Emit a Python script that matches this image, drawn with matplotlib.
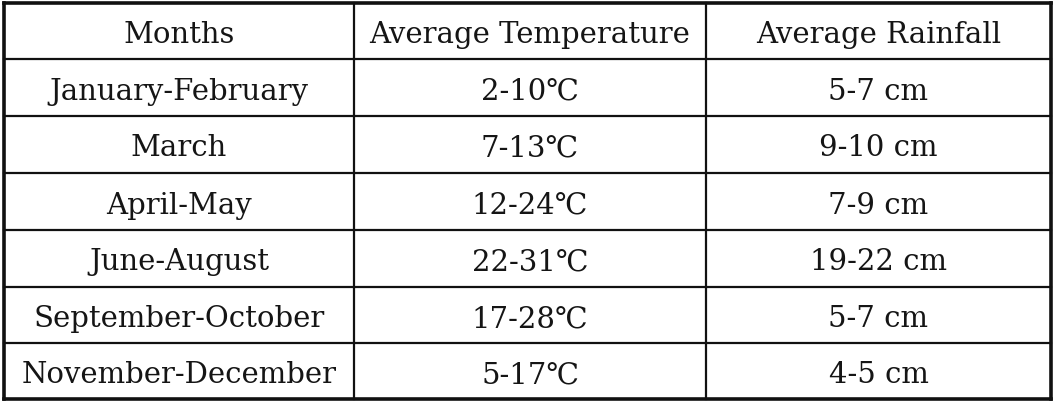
import matplotlib.pyplot as plt

headers = ['Months', 'Average Temperature', 'Average Rainfall']
months = ['January-February', 'March', 'April-May', 'June-August',
          'September-October', 'November-December']
temperature = ['2-10℃', '7-13℃', '12-24℃', '22-31℃', '17-28℃', '5-17℃']
rainfall = ['5-7 cm', '9-10 cm', '7-9 cm', '19-22 cm', '5-7 cm', '4-5 cm']

col_edges = [4, 354, 706, 1051]
row_edges = [3, 59, 116, 173, 230, 287, 343, 399]

fig = plt.figure(figsize=(10.57, 4.04), dpi=100)
ax = fig.add_axes([0, 0, 1, 1])
ax.set_xlim(0, 1057)
ax.set_ylim(404, 0)
ax.axis('off')

# grid lines
for i, x in enumerate(col_edges):
    lw = 2.6 if i in (0, len(col_edges) - 1) else 1.6
    ax.plot([x, x], [row_edges[0], row_edges[-1]], color='#111111', lw=lw, solid_capstyle='projecting')
for i, y in enumerate(row_edges):
    lw = 2.6 if i in (0, len(row_edges) - 1) else 1.6
    ax.plot([col_edges[0], col_edges[-1]], [y, y], color='#111111', lw=lw, solid_capstyle='projecting')

rows = [headers] + [[m, t, r] for m, t, r in zip(months, temperature, rainfall)]
fam = ['DejaVu Serif', 'DejaVu Sans']
for r, row in enumerate(rows):
    yc = (row_edges[r] + row_edges[r + 1]) / 2 + 1
    for c, txt in enumerate(row):
        xc = (col_edges[c] + col_edges[c + 1]) / 2
        ax.text(xc, yc, txt, ha='center', va='center_baseline', fontsize=21,
                family=fam, color='#151515')

fig.savefig('out.png', dpi=100, facecolor='white')
